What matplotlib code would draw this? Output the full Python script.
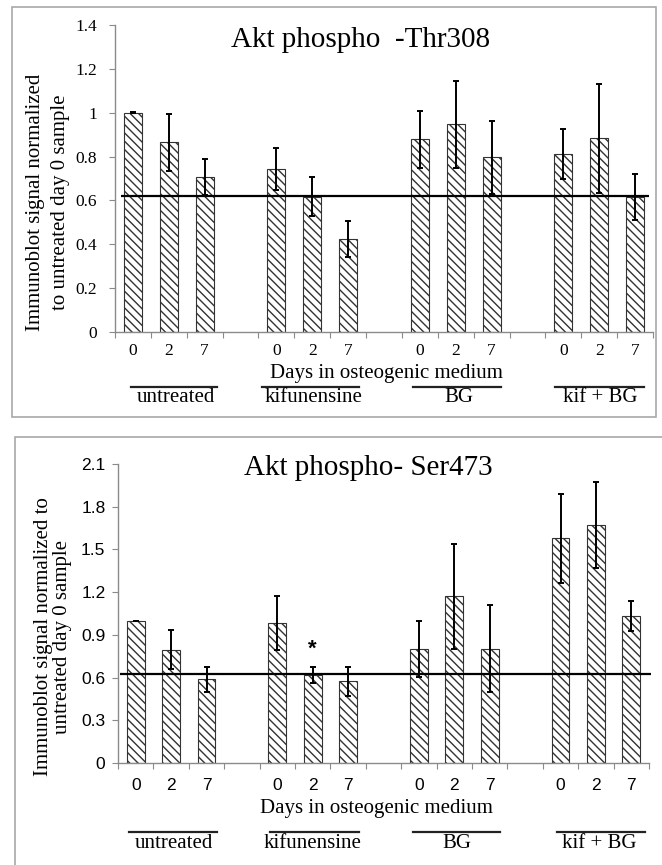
import numpy as np
import matplotlib
matplotlib.use("Agg")
import matplotlib.pyplot as plt
from matplotlib.patches import Rectangle

# ---- data ----
groups = ["untreated", "kifunensine", "BG", "kif + BG"]
days = ["0", "2", "7"]

thr308_mean = [1.00, 0.865, 0.708, 0.744, 0.616, 0.422, 0.878, 0.947, 0.796, 0.811, 0.883, 0.616]
thr308_err = [0.003, 0.13, 0.083, 0.096, 0.089, 0.082, 0.13, 0.198, 0.166, 0.113, 0.247, 0.105]
thr308_ref = 0.62
thr308_yticks = [0, 0.2, 0.4, 0.6, 0.8, 1.0, 1.2, 1.4]
thr308_ylabels = ["0", "0.2", "0.4", "0.6", "0.8", "1", "1.2", "1.4"]

ser473_mean = [1.00, 0.795, 0.587, 0.985, 0.617, 0.573, 0.802, 1.171, 0.802, 1.577, 1.673, 1.032]
ser473_err = [0.0, 0.136, 0.089, 0.188, 0.054, 0.103, 0.195, 0.368, 0.305, 0.31, 0.303, 0.108]
ser473_ref = 0.624
ser473_yticks = [0, 0.3, 0.6, 0.9, 1.2, 1.5, 1.8, 2.1]
ser473_ylabels = ["0", "0.3", "0.6", "0.9", "1.2", "1.5", "1.8", "2.1"]

SERIF = "Liberation Serif"
SANS = "Liberation Sans"
W, H = 662, 865

plt.rcParams["hatch.linewidth"] = 1.0

fig = plt.figure(figsize=(W / 100, H / 100), dpi=100)


def fx(px):
    return px / W


def fy(py):
    return 1 - py / H


# x position of each bar: 3 bars per group, one empty slot between groups
xpos = np.array([4 * g + d for g in range(len(groups)) for d in range(len(days))])
boundaries = np.arange(-0.5, 15, 1.0)


def panel(rect, means, errs, ref, ylim, yticks, ylabels, title, ylabel,
          tickfont, line_spans, label_x, px_title, px_days, px_line, px_label,
          days_x, ylabel_x, ylabel_y, ylabel_ls, ytick_pad, xtick_pad, ref_span):
    ax = fig.add_axes(rect)
    ax.bar(xpos, means, width=0.5, color="white", edgecolor="#333333",
           hatch="\\\\\\\\", linewidth=0.8, zorder=2)
    ax.errorbar(xpos, means, yerr=errs, fmt="none", ecolor="black",
                elinewidth=1.4, capsize=2.5, capthick=1.4, zorder=3)
    ax.hlines(ref, ref_span[0], ref_span[1], color="black", lw=1.6, zorder=4,
              clip_on=False)

    ax.set_xlim(-0.5, 14.5)
    ax.set_ylim(*ylim)
    for s in ["top", "right"]:
        ax.spines[s].set_visible(False)
    for s in ["left", "bottom"]:
        ax.spines[s].set_color("#8a8a8a")
        ax.spines[s].set_linewidth(1.0)

    ax.set_yticks(yticks)
    ax.set_yticklabels(ylabels, fontfamily=tickfont[0], fontsize=tickfont[1])
    ax.tick_params(axis="y", direction="out", length=4, color="#8a8a8a",
                   pad=ytick_pad)

    ax.set_xticks(boundaries)
    ax.set_xticklabels([])
    ax.tick_params(axis="x", which="major", direction="out", length=4,
                   color="#8a8a8a")
    ax.set_xticks(xpos, [days[i % 3] for i in range(len(xpos))], minor=True)
    ax.tick_params(axis="x", which="minor", length=0, pad=xtick_pad)
    for t in ax.get_xticklabels(minor=True):
        t.set_fontfamily(tickfont[0])
        t.set_fontsize(tickfont[1])

    fig.text(fx(px_title[0]), fy(px_title[1]), title, family=SERIF,
             fontsize=21, ha="center", va="center")
    fig.text(fx(days_x), fy(px_days), "Days in osteogenic medium",
             family=SERIF, fontsize=15, ha="center", va="center")
    fig.text(fx(ylabel_x), fy(ylabel_y), ylabel, family=SERIF, fontsize=15,
             rotation=90, ha="center", va="center", linespacing=ylabel_ls,
             multialignment="center")

    trans = matplotlib.transforms.blended_transform_factory(ax.transData,
                                                            fig.transFigure)
    for (x0, x1), lx, name in zip(line_spans, label_x, groups):
        fig.add_artist(plt.Line2D([x0, x1], [fy(px_line)] * 2,
                                  transform=trans, color="#222222", lw=1.6))
        fig.text(lx, fy(px_label), name, transform=trans, family=SERIF,
                 fontsize=15, ha="center", va="center")
    return ax


# top panel: Thr308
ax1 = panel([fx(115), fy(332), fx(653) - fx(115), fy(25) - fy(332)],
            thr308_mean, thr308_err, thr308_ref, (0, 1.4), thr308_yticks,
            thr308_ylabels, "Akt phospho  -Thr308",
            "Immunoblot signal normalized\nto untreated day 0 sample",
            (SERIF, 12.5),
            [(-0.06, 2.35), (3.6, 6.29), (7.8, 10.25), (11.77, 14.24)],
            [1.2, 5.04, 9.08, 13.04],
            (361, 40), 373, 387, 398, 386, 48, 202, 1.4, 9, 8,
            (-0.34, 14.39))

# bottom panel: Ser473
ax2 = panel([fx(118), fy(763), fx(649) - fx(118), fy(464) - fy(763)],
            ser473_mean, ser473_err, ser473_ref, (0, 2.1), ser473_yticks,
            ser473_ylabels, "Akt phospho- Ser473",
            "Immunoblot signal normalized to\nuntreated day 0 sample",
            (SANS, 12.5),
            [(-0.2, 2.29), (3.79, 6.3), (7.82, 10.3), (11.9, 14.38)],
            [1.07, 5.0, 9.07, 13.1],
            (368, 468), 808, 832, 843, 376, 53, 637, 1.05, 5, 11,
            (-0.45, 14.55))

# significance mark
ax2.text(xpos[4], 0.80, "*", family=SANS, fontsize=16, fontweight="bold",
         ha="center", va="center")

# gray panel frames
fig.add_artist(Rectangle((fx(12), fy(417)), fx(656) - fx(12), fy(7) - fy(417),
                         transform=fig.transFigure, fill=False,
                         edgecolor="#a8a8a8", lw=1.2))
fig.add_artist(Rectangle((fx(15), fy(900)), fx(700) - fx(15), fy(437) - fy(900),
                         transform=fig.transFigure, fill=False,
                         edgecolor="#a8a8a8", lw=1.2))

fig.savefig("out.png", dpi=100)
